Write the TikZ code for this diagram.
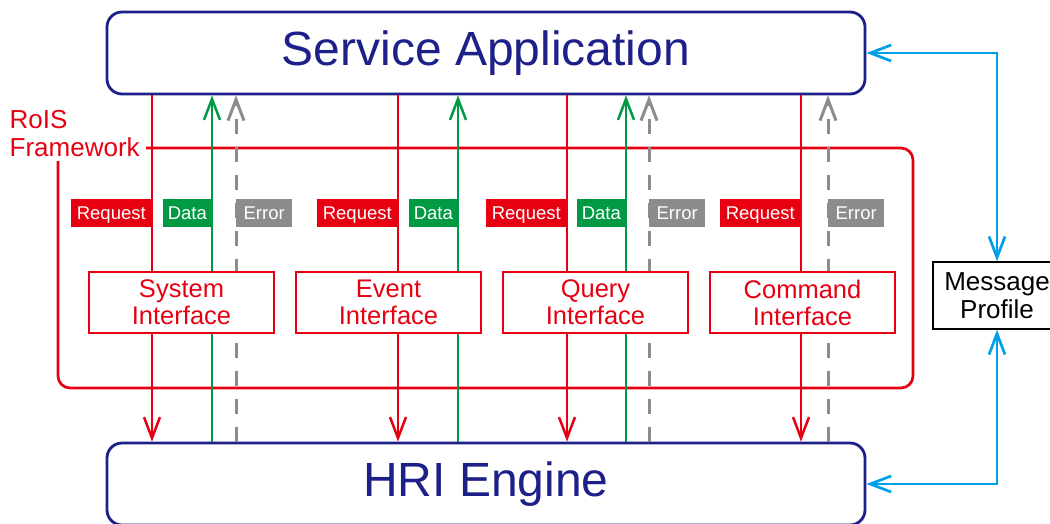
\documentclass[tikz,border=0pt]{standalone}
\usepackage{fontspec}
\setmainfont{Liberation Sans}
\usetikzlibrary{arrows.meta}
\definecolor{navy}{HTML}{1D2088}
\definecolor{rred}{HTML}{E60012}
\definecolor{rgreen}{HTML}{009944}
\definecolor{rgray}{HTML}{8C8C8C}
\definecolor{rblue}{HTML}{00A0E9}
\begin{document}
\begin{tikzpicture}[x=1pt,y=-1pt,
  >={Straight Barb[length=21pt,width=16pt]},
  bigbox/.style={draw=navy, line width=2.8pt, rounded corners=15pt, fill=white, minimum width=758pt, minimum height=82pt, inner sep=0pt, text=navy, font=\fontsize{48}{50}\selectfont},
  iface/.style={draw=rred, line width=2.4pt, fill=white, minimum width=185pt, minimum height=61pt, inner sep=0pt, text=rred, align=center, font=\fontsize{25.5}{27}\selectfont},
  tagbox/.style={minimum height=28pt, inner sep=0pt, text height=13pt, text depth=0pt, text=white, font=\fontsize{18.5}{20}\selectfont},
  reqtag/.style={tagbox, fill=rred, minimum width=81pt, anchor=east},
  datatag/.style={tagbox, fill=rgreen, minimum width=49pt, anchor=east},
  errtag/.style={tagbox, fill=rgray, minimum width=56pt, anchor=west},
  reqline/.style={draw=rred, line width=2.5pt, ->},
  dataline/.style={draw=rgreen, line width=2.5pt, ->},
  errline/.style={draw=rgray, line width=3pt, dash pattern=on 15pt off 13pt, ->},
  msgline/.style={draw=rblue, line width=2.7pt, <->},
]
\useasboundingbox (0,0) rectangle (1050,523);

% framework frame and label
\node[draw=rred, line width=2.7pt, rounded corners=12pt, minimum width=855pt, minimum height=240pt, inner sep=0pt] (frame) at (485.5,268) {};
\node[fill=white, inner sep=0pt, minimum width=143pt, minimum height=56pt, align=left, text=rred, font=\fontsize{26}{28}\selectfont, anchor=north west] (rois) at (3,105) {RoIS\\Framework};

% main boxes
\node[bigbox] (sa) at (486,53) {Service Application};
\node[bigbox] (hri) at (486,484) {HRI Engine};

% line positions
\coordinate (sR) at (152,0);
\coordinate (sD) at (212,0);
\coordinate (sE) at (236,0);
\coordinate (eR) at (398,0);
\coordinate (eD) at (458,0);
\coordinate (qR) at (567,0);
\coordinate (qD) at (626,0);
\coordinate (qE) at (649,0);
\coordinate (cR) at (801,0);
\coordinate (cE) at (828,0);

% connectors
\draw[reqline] (sa.south -| sR) -- (hri.north -| sR);
\draw[dataline] (hri.north -| sD) -- (sa.south -| sD);
\draw[errline] (hri.north -| sE) -- (sa.south -| sE);
\draw[reqline] (sa.south -| eR) -- (hri.north -| eR);
\draw[dataline] (hri.north -| eD) -- (sa.south -| eD);
\draw[reqline] (sa.south -| qR) -- (hri.north -| qR);
\draw[dataline] (hri.north -| qD) -- (sa.south -| qD);
\draw[errline] (hri.north -| qE) -- (sa.south -| qE);
\draw[reqline] (sa.south -| cR) -- (hri.north -| cR);
\draw[errline] (hri.north -| cE) -- (sa.south -| cE);

% tags
\node[reqtag] (t1) at (152,213) {Request};
\node[datatag] (t2) at (212,213) {Data};
\node[errtag] (t3) at (236,213) {Error};
\node[reqtag] (t4) at (398,213) {Request};
\node[datatag] (t5) at (458,213) {Data};
\node[reqtag] (t6) at (567,213) {Request};
\node[datatag] (t7) at (626,213) {Data};
\node[errtag] (t8) at (649,213) {Error};
\node[reqtag] (t9) at (801,213) {Request};
\node[errtag] (t10) at (828,213) {Error};

% interfaces
\node[iface] (sys) at (181.5,302.5) {System\\Interface};
\node[iface] (evt) at (388.5,302.5) {Event\\Interface};
\node[iface] (qry) at (595.5,302.5) {Query\\Interface};
\node[iface] (cmd) at (802.5,302.5) {Command\\Interface};

% message profile
\node[draw=black, line width=1.5pt, fill=white, minimum width=128pt, minimum height=67pt, inner sep=0pt, align=center, font=\fontsize{26}{28}\selectfont] (mp) at (997,295.5) {Message\\Profile};
\draw[msgline] (mp.north) |- (sa.east);
\draw[msgline] (mp.south) |- (hri.east);
\end{tikzpicture}
\end{document}
